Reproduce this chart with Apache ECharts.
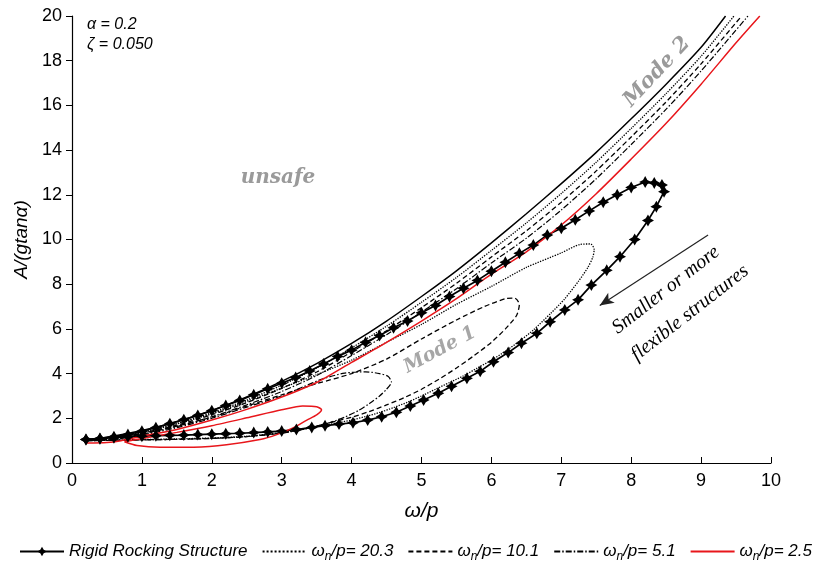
<!DOCTYPE html>
<html><head><meta charset="utf-8">
<script src="https://cdn.jsdelivr.net/npm/echarts@6/dist/echarts.min.js"></script>
<style>html,body{margin:0;padding:0;background:#fff}#c{width:818px;height:565px}</style>
</head><body><div id="c"></div>
<script>
// ---- data (omega/p , A/(g tan alpha)) ----
const xTicks = [0,1,2,3,4,5,6,7,8,9,10];
const yTicks = [0,2,4,6,8,10,12,14,16,18,20];
const legendNames = ['Rigid Rocking Structure','ωn/p= 20.3','ωn/p= 10.1','ωn/p= 5.1','ωn/p= 2.5'];

// Mode 2 boundaries
const rigidMode2 = [[0.2,1.05],[0.5,1.15],[1.0,1.45],[1.5,1.85],[2.0,2.35],[2.5,2.95],[3.0,3.65],[3.5,4.45],[4.0,5.35],[4.5,6.35],[5.0,7.45],[5.5,8.6],[6.0,9.85],[6.5,11.15],[7.0,12.5],[7.5,13.9],[8.0,15.4],[8.5,16.95],[9.0,18.6],[9.35,20]];
const w20Mode2 = [[0.2,1.03],[0.5,1.1],[1.0,1.39],[1.5,1.77],[2.0,2.25],[2.5,2.82],[3.0,3.48],[3.5,4.25],[4.0,5.15],[4.5,6.12],[5.0,7.19],[5.5,8.3],[6.0,9.51],[6.5,10.74],[7.0,12.06],[7.5,13.46],[8.0,14.97],[8.5,16.53],[9.0,18.2],[9.47,20]];
const w10Mode2 = [[0.2,1.02],[0.5,1.06],[1.0,1.34],[1.5,1.69],[2.0,2.16],[2.5,2.7],[3.0,3.34],[3.5,4.07],[4.0,4.97],[4.5,5.92],[5.0,6.95],[5.5,8.04],[6.0,9.22],[6.5,10.39],[7.0,11.67],[7.5,13.07],[8.0,14.59],[8.5,16.16],[9.0,17.86],[9.58,20]];
const w5Mode2 = [[0.2,1.0],[0.5,1.02],[1.0,1.29],[1.5,1.63],[2.0,2.07],[2.5,2.6],[3.0,3.2],[3.5,3.91],[4.0,4.81],[4.5,5.74],[5.0,6.75],[5.5,7.8],[6.0,8.95],[6.5,10.06],[7.0,11.32],[7.5,12.72],[8.0,14.25],[8.5,15.83],[9.0,17.54],[9.67,20]];
const w25Mode2 = [[0.2,0.9],[0.5,0.92],[0.7,1.0],[1.0,1.2],[1.5,1.5],[2.0,1.92],[2.5,2.4],[3.0,2.95],[3.5,3.6],[4.0,4.5],[4.5,5.4],[5.0,6.35],[5.5,7.35],[6.0,8.45],[6.5,9.45],[7.0,10.65],[7.5,12.05],[8.0,13.6],[8.5,15.2],[9.0,16.95],[9.5,18.8],[9.84,20]];

// Mode 1 regions (closed loops)
const rigidMode1 = [[0.2,1.05],[0.4,1.1],[0.6,1.18],[0.8,1.27],[1.0,1.42],[1.2,1.58],[1.4,1.76],[1.6,1.94],[1.8,2.13],[2.0,2.34],[2.2,2.57],[2.4,2.8],[2.6,3.05],[2.8,3.32],[3.0,3.57],[3.2,3.82],[3.4,4.12],[3.6,4.43],[3.8,4.77],[4.0,5.05],[4.2,5.4],[4.4,5.7],[4.6,6.05],[4.8,6.35],[5.0,6.72],[5.2,7.05],[5.4,7.45],[5.6,7.82],[5.8,8.17],[6.0,8.58],[6.2,8.98],[6.4,9.38],[6.6,9.75],[6.8,10.2],[7.0,10.5],[7.2,10.88],[7.4,11.28],[7.6,11.67],[7.8,12.0],[8.0,12.33],[8.2,12.57],[8.33,12.53],[8.44,12.44],[8.47,12.14],[8.36,11.47],[8.24,10.85],[8.05,10.0],[7.84,9.23],[7.65,8.62],[7.43,7.96],[7.24,7.3],[7.05,6.85],[6.84,6.32],[6.65,5.8],[6.43,5.36],[6.24,4.94],[6.03,4.53],[5.84,4.1],[5.65,3.79],[5.43,3.43],[5.24,3.12],[5.03,2.82],[4.84,2.55],[4.64,2.27],[4.43,2.07],[4.23,1.92],[4.02,1.8],[3.82,1.74],[3.62,1.67],[3.43,1.59],[3.21,1.5],[3.0,1.43],[2.8,1.39],[2.6,1.36],[2.4,1.33],[2.2,1.31],[2.0,1.29],[1.8,1.27],[1.6,1.25],[1.4,1.24],[1.2,1.22],[1.0,1.2],[0.8,1.17],[0.6,1.13],[0.4,1.09],[0.2,1.05]];
const w20Mode1 = [[0.2,1.03],[1.0,1.36],[2.0,2.2],[3.0,3.35],[3.5,3.95],[4.0,4.6],[4.5,5.4],[5.0,6.2],[5.5,7.1],[6.0,7.9],[6.5,8.75],[7.0,9.4],[7.27,9.78],[7.42,9.8],[7.47,9.55],[7.45,9.2],[7.38,8.75],[7.25,8.15],[7.05,7.35],[6.85,6.7],[6.6,5.95],[6.4,5.45],[6.2,5.0],[6.0,4.6],[5.8,4.25],[5.6,3.9],[5.4,3.6],[5.2,3.3],[5.0,3.0],[4.8,2.72],[4.6,2.48],[4.4,2.26],[4.2,2.08],[4.0,1.92],[3.8,1.8],[3.6,1.68],[3.4,1.56],[3.2,1.45],[3.0,1.36],[2.5,1.2],[2.0,1.12],[1.5,1.08],[1.0,1.05],[0.5,1.03],[0.2,1.03]];
const w10Mode1 = [[0.2,1.02],[1.0,1.3],[2.0,2.05],[2.5,2.55],[3.0,3.05],[3.5,3.55],[4.0,4.0],[4.5,4.65],[5.0,5.55],[5.5,6.4],[5.9,7.0],[6.2,7.35],[6.33,7.38],[6.4,7.1],[6.36,6.6],[6.2,6.0],[6.0,5.4],[5.75,4.8],[5.5,4.25],[5.25,3.75],[5.0,3.3],[4.75,2.92],[4.5,2.6],[4.25,2.3],[4.0,2.05],[3.75,1.85],[3.5,1.65],[3.25,1.48],[3.0,1.35],[2.5,1.18],[2.0,1.1],[1.5,1.06],[1.0,1.04],[0.5,1.02],[0.2,1.02]];
const w5Mode1 = [[0.2,1.0],[0.5,1.02],[1.0,1.25],[1.5,1.58],[2.0,2.0],[2.5,2.5],[3.0,3.0],[3.3,3.4],[3.6,3.78],[3.9,4.02],[4.2,4.08],[4.4,4.0],[4.52,3.88],[4.57,3.62],[4.5,3.3],[4.4,3.0],[4.26,2.67],[4.1,2.35],[3.9,2.05],[3.7,1.82],[3.5,1.65],[3.25,1.47],[3.0,1.33],[2.5,1.18],[2.0,1.1],[1.5,1.06],[1.0,1.03],[0.5,1.01],[0.2,1.0]];
const w25Mode1 = [[0.75,0.95],[1.0,1.1],[1.5,1.37],[2.0,1.67],[2.5,2.02],[3.0,2.38],[3.3,2.55],[3.5,2.52],[3.57,2.38],[3.5,2.15],[3.36,1.92],[3.17,1.58],[2.93,1.27],[2.69,1.05],[2.21,0.82],[1.74,0.71],[1.26,0.7],[0.93,0.78],[0.75,0.95]];

const arrowFrom = [9.1, 10.2];
const arrowTo = [7.55, 7.05];

const RED = '#e8161b';
const star = 'path://M0,-10 L3.6,-3.6 L10,0 L3.6,3.6 L0,10 L-3.6,3.6 L-10,0 L-3.6,-3.6 Z';
const DASH = [5,3];
const DASHDOT = [6,2,1.5,2];

function line(name, data, lineStyle, extra) {
  return Object.assign({
    name, type: 'line', data, showSymbol: false, symbol: 'none', smooth: 0.25,
    lineStyle: Object.assign({ color: '#000', width: 1.2 }, lineStyle),
    itemStyle: { color: lineStyle.color || '#000' },
    animation: false, silent: true, clip: true
  }, extra || {});
}

const series = [
  line(legendNames[0], rigidMode1, { width: 1.7 }, {
    symbol: star, symbolSize: 12, showSymbol: true, smooth: false,
    itemStyle: { color: '#000' },
    markLine: {
      silent: true, symbol: ['none', 'arrow'], symbolSize: [9, 14],
      label: { show: false },
      lineStyle: { color: '#222', width: 1.2, type: 'solid' },
      data: [[{ coord: arrowFrom }, { coord: arrowTo }]]
    }
  }),
  line(legendNames[1], w20Mode1, { type: 'dotted', width: 1.3 }),
  line(legendNames[2], w10Mode1, { type: DASH, width: 1.3 }),
  line(legendNames[3], w5Mode1, { type: DASHDOT, width: 1.2 }),
  line(legendNames[4], w25Mode1, { color: RED, width: 1.5 }),
  line(legendNames[0], rigidMode2, { width: 1.5 }),
  line(legendNames[1], w20Mode2, { type: 'dotted', width: 1.3 }),
  line(legendNames[2], w10Mode2, { type: DASH, width: 1.3 }),
  line(legendNames[3], w5Mode2, { type: DASHDOT, width: 1.2 }),
  line(legendNames[4], w25Mode2, { color: RED, width: 1.5 })
];

const noMark = { color: 'rgba(0,0,0,0)', borderWidth: 0, opacity: 0 };
const legendData = legendNames.map((n, i) => i === 0 ? { name: n } : { name: n, itemStyle: noMark });

const chart = echarts.init(document.getElementById('c'), null, { renderer: 'canvas' });
const FONT = 'Liberation Sans';
chart.setOption({
  backgroundColor: '#fff',
  animation: false,
  grid: { left: 72, right: 47, top: 16, bottom: 102, containLabel: false },
  xAxis: {
    type: 'value', min: xTicks[0], max: xTicks[xTicks.length - 1], interval: 1,
    name: 'ω/p', nameLocation: 'middle', nameGap: 38,
    nameTextStyle: { fontFamily: FONT, fontStyle: 'italic', fontSize: 21, color: '#000' },
    axisLine: { lineStyle: { color: '#000', width: 1.2 } },
    axisTick: { inside: true, length: 6, lineStyle: { color: '#000' } },
    axisLabel: { fontFamily: FONT, fontSize: 18, color: '#000', margin: 9 },
    splitLine: { show: false }
  },
  yAxis: {
    type: 'value', min: yTicks[0], max: yTicks[yTicks.length - 1], interval: 2,
    name: 'A/(gtanα)', nameLocation: 'middle', nameGap: 36, nameRotate: 90,
    nameTextStyle: { fontFamily: FONT, fontStyle: 'italic', fontSize: 19, color: '#000' },
    axisLine: { show: true, lineStyle: { color: '#000', width: 1.2 } },
    axisTick: { show: true, inside: false, length: 6, lineStyle: { color: '#000' } },
    axisLabel: { fontFamily: FONT, fontSize: 18, color: '#000', margin: 10 },
    splitLine: { show: false }
  },
  legend: {
    data: legendData, top: 541, left: 17, right: 0, padding: 2, itemWidth: 44, itemHeight: 12, itemGap: 14,
    textStyle: { fontFamily: FONT, fontStyle: 'italic', fontSize: 17, color: '#000',
      rich: {
        t: { fontFamily: FONT, fontStyle: 'italic', fontSize: 17, color: '#000' },
        s: { fontFamily: FONT, fontStyle: 'italic', fontSize: 12, color: '#000', padding: [10, 0, 0, 0] }
      } },
    formatter: function (n) {
      if (n.indexOf('ωn') === 0) return '{t|ω}{s|n}{t|' + n.slice(2) + '}';
      return '{t|' + n + '}';
    }
  },
  graphic: [
    { type: 'text', left: 87, top: 17, style: { text: 'α = 0.2', fontFamily: FONT, fontStyle: 'italic', fontSize: 16, fill: '#000' } },
    { type: 'text', left: 87, top: 37, style: { text: 'ζ = 0.050', fontFamily: FONT, fontStyle: 'italic', fontSize: 16, fill: '#000' } },
    { type: 'text', x: 278, y: 178, style: { text: 'unsafe', fontFamily: 'DejaVu Serif', fontStyle: 'italic', fontWeight: 'bold', fontSize: 20, fill: '#9a9a9a', align: 'center', verticalAlign: 'middle' } },
    { type: 'text', x: 657, y: 72, rotation: 47 * Math.PI / 180, style: { text: 'Mode 2', fontFamily: 'DejaVu Serif', fontStyle: 'italic', fontWeight: 'bold', fontSize: 21, fill: '#9a9a9a', align: 'center', verticalAlign: 'middle' } },
    { type: 'text', x: 440, y: 350, rotation: 28 * Math.PI / 180, style: { text: 'Mode 1', fontFamily: 'DejaVu Serif', fontStyle: 'italic', fontWeight: 'bold', fontSize: 19, fill: '#a6a6a6', align: 'center', verticalAlign: 'middle' } },
    { type: 'text', x: 666, y: 290, rotation: 38 * Math.PI / 180, style: { text: 'Smaller or more', fontFamily: 'Liberation Serif', fontStyle: 'italic', fontSize: 20, fill: '#000', align: 'center', verticalAlign: 'middle' } },
    { type: 'text', x: 690, y: 313, rotation: 38 * Math.PI / 180, style: { text: 'flexible structures', fontFamily: 'Liberation Serif', fontStyle: 'italic', fontSize: 20, fill: '#000', align: 'center', verticalAlign: 'middle' } }
  ],
  series
});
</script></body></html>
